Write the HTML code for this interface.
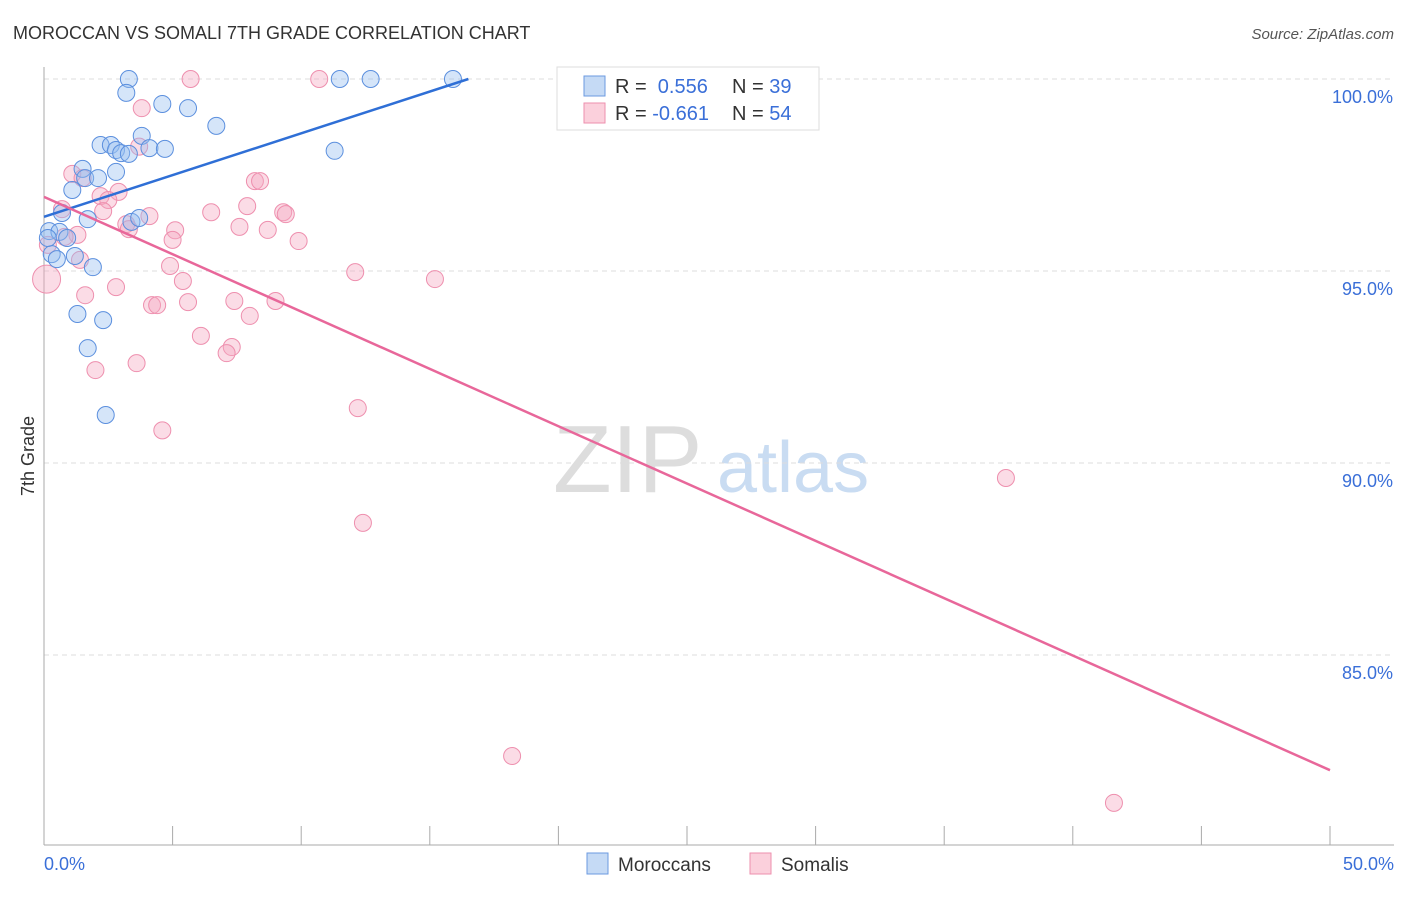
<!DOCTYPE html>
<html><head><meta charset="utf-8"><style>
body{margin:0;background:#fff;font-family:"Liberation Sans",sans-serif;}
svg text{font-family:"Liberation Sans",sans-serif;}
</style></head><body>
<svg id="c" width="1406" height="892">
<text x="13" y="39" font-size="18" fill="#333">MOROCCAN VS SOMALI 7TH GRADE CORRELATION CHART</text>
<text x="1394" y="39" font-size="15" fill="#555" font-style="italic" text-anchor="end">Source: ZipAtlas.com</text>
<g>
<text x="553" y="492" font-size="96" font-family="Liberation Serif,serif" fill="#ddd">ZIP</text>
<text x="717" y="492" font-size="72" fill="#c9dcf2">atlas</text>
</g>
<g id="grid"></g>
<line x1="44" y1="67" x2="44" y2="845" stroke="#aaa"/>
<line x1="44" y1="845" x2="1394" y2="845" stroke="#aaa"/>
<g id="xt"></g>
<text transform="translate(34,456) rotate(-90)" font-size="18" fill="#333" text-anchor="middle">7th Grade</text>
<text x="44" y="870" font-size="18" fill="#3a6fd8">0.0%</text>
<text x="1394" y="870" font-size="18" fill="#3a6fd8" text-anchor="end">50.0%</text>
<g id="pts"></g>
<g id="lines"></g>
<g>
<rect x="557" y="67" width="262" height="63" fill="#fff" stroke="#ddd"/>
<rect x="584" y="76" width="21" height="20" fill="#c5daf5" stroke="#6b9ae0"/>
<rect x="584" y="103" width="21" height="20" fill="#fbd0dc" stroke="#ee8fae"/>
<text x="615" y="93" font-size="20" fill="#333">R = <tspan fill="#3a6fd8">&#160;0.556</tspan></text>
<text x="732" y="93" font-size="20" fill="#333">N = <tspan fill="#3a6fd8">39</tspan></text>
<text x="615" y="120" font-size="20" fill="#333">R = <tspan fill="#3a6fd8">-0.661</tspan></text>
<text x="732" y="120" font-size="20" fill="#333">N = <tspan fill="#3a6fd8">54</tspan></text>
</g>
<g>
<rect x="587" y="853" width="21" height="21" fill="#c5daf5" stroke="#6b9ae0"/>
<text x="618" y="871" font-size="19" fill="#333">Moroccans</text>
<rect x="750" y="853" width="21" height="21" fill="#fbd0dc" stroke="#ee8fae"/>
<text x="781" y="871" font-size="19" fill="#333">Somalis</text>
</g>
</svg>
<script>
const yTicks=[100,95,90,85];
const yTickLabels=["100.0%","95.0%","90.0%","85.0%"];
const xTicks=[0,5,10,15,20,25,30,35,40,45,50];
const moroccanX=[3.3,11.5,12.7,15.9,25.8,3.2,4.6,5.6,6.7,3.8,2.2,2.6,2.8,3.0,3.3,4.1,4.7,11.3,1.5,2.8,1.1,1.6,2.1,0.7,1.7,3.4,3.7,0.2,0.6,0.9,0.3,0.5,1.2,1.9,1.3,2.3,1.7,2.4,0.15];
const moroccanY=[100,100,100,100,100,99.64,99.35,99.24,98.78,98.52,98.28,98.28,98.15,98.07,98.05,98.2,98.18,98.13,97.66,97.58,97.11,97.42,97.42,96.51,96.35,96.28,96.38,96.04,96.02,95.86,95.44,95.31,95.39,95.1,93.88,93.72,92.99,91.25,95.86];
const somaliX=[5.7,10.7,3.8,3.7,1.1,1.5,8.2,8.4,2.9,2.2,2.5,0.7,2.3,4.1,6.5,7.9,9.3,9.4,3.2,3.3,5.1,5.0,7.6,8.7,9.9,1.3,0.8,0.15,1.4,4.9,12.1,15.2,5.4,2.8,1.6,4.2,4.4,5.6,7.4,9.0,8.0,6.1,7.3,7.1,3.6,2.0,4.6,12.2,37.4,12.4,18.2,41.6,0.1];
const somaliY=[100,100,99.24,98.24,97.53,97.42,97.34,97.34,97.06,96.95,96.85,96.61,96.56,96.43,96.53,96.69,96.53,96.48,96.22,96.09,96.06,95.81,96.15,96.07,95.78,95.94,95.89,95.68,95.29,95.13,94.97,94.79,94.74,94.58,94.37,94.11,94.11,94.19,94.22,94.22,93.83,93.31,93.02,92.86,92.6,92.42,90.85,91.43,89.61,88.44,82.37,81.15,94.79];
const blueLine=[[0,96.41],[16.5,100]];
const pinkLine=[[0,96.93],[50,82.0]];
const X=v=>44+v/50*1286, Y=v=>79+(100-v)*38.4;
const NS="http://www.w3.org/2000/svg";
function mk(t,a,p){const e=document.createElementNS(NS,t);for(const k in a)e.setAttribute(k,a[k]);p.appendChild(e);return e;}
const g=document.getElementById('grid');
yTicks.forEach((t,i)=>{
const l=mk('line',{x1:44,x2:1394,y1:Y(t),y2:Y(t),stroke:'#ddd','stroke-dasharray':'5,4'},g);


const tx=mk('text',{x:1393,y:Y(t)+24,'font-size':18,fill:'#3a6fd8','text-anchor':'end'},g);
tx.textContent=yTickLabels[i];


});
const xt=document.getElementById('xt');
xTicks.forEach(t=>{
const l=mk('line',{x1:X(t),x2:X(t),y1:826,y2:845,stroke:'#aaa'},xt);


});
const P=document.getElementById('pts');
somaliX.forEach((x,i)=>{
const c=mk('circle',{cx:X(x),cy:Y(somaliY[i]),r:i==somaliX.length-1?14:8.5,fill:'rgba(246,168,192,0.4)',stroke:'#ee8fae','stroke-width':1},P);


});
moroccanX.forEach((x,i)=>{
const c=mk('circle',{cx:X(x),cy:Y(moroccanY[i]),r:8.5,fill:'rgba(150,190,240,0.4)',stroke:'#5b8fde','stroke-width':1},P);


});
const L=document.getElementById('lines');
const bl=mk('line',{x1:X(blueLine[0][0]),y1:Y(blueLine[0][1]),x2:X(blueLine[1][0]),y2:Y(blueLine[1][1]),stroke:'#2f6fd6','stroke-width':2.5},L);


const pl=mk('line',{x1:X(pinkLine[0][0]),y1:Y(pinkLine[0][1]),x2:X(pinkLine[1][0]),y2:Y(pinkLine[1][1]),stroke:'#e8679a','stroke-width':2.5},L);


</script>
</body></html>
